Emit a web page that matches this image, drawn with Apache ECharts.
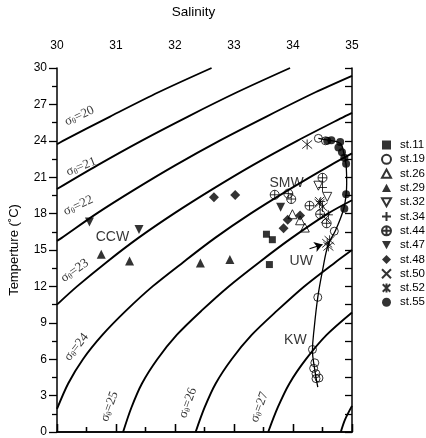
<!DOCTYPE html>
<html>
<head>
<meta charset="utf-8">
<title>T-S diagram</title>
<script src="https://cdn.jsdelivr.net/npm/echarts@6/dist/echarts.min.js"></script>
<style>
html, body { margin: 0; padding: 0; background: #fff; }
#main { width: 426px; height: 438px; }
</style>
</head>
<body>
<div id="main"></div>
<script>
// isopycnals (sigma-theta), [salinity, temperature]
var sig20 = [[30, 23.71], [30.1, 24], [30.9, 26], [31.72, 28], [32.62, 30]];
var sig21 = [[30, 20.03], [30.69, 22], [31.43, 24], [32.22, 26], [33.05, 28], [33.95, 30]];
var sig22 = [[30, 15.75], [30.08, 16], [30.67, 18], [31.32, 20], [32.01, 22], [32.75, 24], [33.55, 26], [34.38, 28], [35, 29.36]];
var sig23 = [[30, 10.5], [30.34, 12], [30.84, 14], [31.38, 16], [31.98, 18], [32.63, 20], [33.32, 22], [34.07, 24], [34.87, 26], [35, 26.31]];
var sig24 = [[30, 1.9], [30.19, 4], [30.44, 6], [30.77, 8], [31.17, 10], [31.62, 12], [32.14, 14], [32.68, 16], [33.28, 18], [33.94, 20], [34.64, 22], [35, 22.96]];
var sig25 = [[31.12, 0], [31.26, 2], [31.44, 4], [31.7, 6], [32.03, 8], [32.45, 10], [32.91, 12], [33.43, 14], [33.98, 16], [34.59, 18], [35, 19.1]];
var sig26 = [[32.35, 0], [32.5, 2], [32.69, 4], [32.96, 6], [33.3, 8], [33.73, 10], [34.19, 12], [34.72, 14], [35, 15.0]];
var sig27 = [[33.58, 0], [33.74, 2], [33.94, 4], [34.22, 6], [34.57, 8], [35, 9.85]];
var sig28 = [[34.81, 0], [34.88, 1], [35, 2.15]];
var isoLines = [sig20, sig21, sig22, sig23, sig24, sig25, sig26, sig27, sig28];

var sigmaNames = ['20', '21', '22', '23', '24', '25', '26', '27'];
var sigmaLabelAt = [[30.38, 26.05], [30.41, 21.86], [30.36, 18.66], [30.3, 13.3], [30.33, 7.0], [30.89, 2.1], [32.22, 2.4], [33.43, 2.05]];
var sigmaLabelRot = [25, 22, 25, 35, 52, 70, 70, 70];

// stations
var st11 = [[33.55, 16.3], [33.65, 15.85], [33.6, 13.8]];
var st19 = [[34.43, 24.2], [34.55, 24.0], [34.7, 16.55], [34.42, 11.1], [34.33, 6.8], [34.37, 5.7], [34.35, 5.25], [34.39, 4.8], [34.44, 4.45], [34.39, 4.4]];
var st26 = [[33.99, 17.95], [34.12, 17.45], [34.2, 16.85]];
var st29 = [[30.75, 14.65], [31.23, 14.1], [32.43, 13.92], [32.93, 14.22]];
var st32 = [[34.43, 20.3], [34.58, 19.38]];
var st34 = [[34.5, 20.15], [34.47, 19.0], [34.6, 17.9]];
var st44 = [[33.69, 19.55], [33.92, 19.65], [33.97, 19.2], [34.28, 18.65], [34.46, 17.95], [34.57, 17.2], [34.5, 20.95]];
var st47 = [[30.55, 17.3], [31.39, 16.68], [33.79, 18.52]];
var st48 = [[32.66, 19.34], [33.02, 19.54], [33.84, 16.8], [33.91, 17.5], [34.12, 17.84]];
var st50 = [[34.45, 19.0], [34.55, 17.6]];
var st52 = [[34.24, 23.7], [34.45, 18.85], [34.5, 18.55], [34.62, 15.8], [34.6, 15.3], [34.58, 15.55]];
var st55 = [[34.58, 24.0], [34.65, 24.05], [34.8, 23.9], [34.77, 23.45], [34.83, 23.05], [34.87, 22.6], [34.9, 22.1], [34.9, 19.6], [34.87, 18.4]];

// profile curve through the stations
var profile = [[34.43, 24.2], [34.6, 24.05], [34.8, 23.8], [34.86, 23.0], [34.9, 22.0], [34.91, 20.5], [34.9, 19.6], [34.86, 18.4], [34.72, 16.6], [34.6, 15.5], [34.5, 13.3], [34.42, 11.1], [34.36, 8.6], [34.33, 6.7], [34.36, 5.4], [34.42, 3.7]];
var arrowFrom = [34.28, 15.1];
var arrowTo = [34.5, 15.45];

var waterNames = ['CCW', 'SMW', 'UW', 'KW'];
var waterAt = [[30.94, 16.03], [33.89, 20.55], [34.14, 14.05], [34.04, 7.56]];

var stations = [
    { name: 'st.11', data: st11, symbol: 'rect', size: 7, fill: '#000' },
    { name: 'st.19', data: st19, symbol: 'path://M0,5 A5,5 0 1,1 10,5 A5,5 0 1,1 0,5 Z', size: 8, fill: 'transparent' },
    { name: 'st.26', data: st26, symbol: 'path://M5,0 L10,9 L0,9 Z', size: 9, fill: 'transparent' },
    { name: 'st.29', data: st29, symbol: 'path://M5,0 L10,9 L0,9 Z', size: 9, fill: '#000' },
    { name: 'st.32', data: st32, symbol: 'path://M0,0 L10,0 L5,9 Z', size: 9, fill: 'transparent' },
    { name: 'st.34', data: st34, symbol: 'path://M5,0 L5,10 M0,5 L10,5', size: 9, fill: 'transparent' },
    { name: 'st.44', data: st44, symbol: 'path://M0,5 A5,5 0 1,1 10,5 A5,5 0 1,1 0,5 Z M5,0 L5,10 M0,5 L10,5', size: 9, fill: 'transparent' },
    { name: 'st.47', data: st47, symbol: 'path://M0,0 L10,0 L5,9 Z', size: 9, fill: '#000' },
    { name: 'st.48', data: st48, symbol: 'diamond', size: 10, fill: '#000' },
    { name: 'st.50', data: st50, symbol: 'path://M0,0 L10,10 M10,0 L0,10', size: 9, fill: 'transparent' },
    { name: 'st.52', data: st52, symbol: 'path://M0,0 L10,10 M10,0 L0,10 M5,-1 L5,11', size: 10, fill: 'transparent' },
    { name: 'st.55', data: st55, symbol: 'circle', size: 8, fill: '#000' }
];

var series = [];
isoLines.forEach(function (pts) {
    series.push({
        type: 'line', data: pts, showSymbol: false, smooth: 0.3, silent: true, z: 1,
        lineStyle: { color: '#000', width: 1.9 }
    });
});
series.push({
    type: 'line', data: profile, showSymbol: false, smooth: 0.4, silent: true, z: 2,
    lineStyle: { color: '#000', width: 1.3 },
    markLine: {
        silent: true, symbol: ['none', 'arrow'], symbolSize: 8,
        label: { show: false },
        lineStyle: { color: '#000', width: 1.2, type: 'solid' },
        data: [[{ coord: arrowFrom }, { coord: arrowTo }]]
    }
});
stations.forEach(function (s) {
    series.push({
        name: s.name, type: 'scatter', data: s.data, symbol: s.symbol, symbolSize: s.size, z: 3,
        itemStyle: { color: s.fill, borderColor: '#000', borderWidth: s.fill === '#000' ? 0 : 1 }
    });
});
series.push({
    type: 'scatter', symbolSize: 0, silent: true, z: 4,
    data: sigmaNames.map(function (n, i) {
        return { name: n, value: sigmaLabelAt[i], label: { rotate: sigmaLabelRot[i] } };
    }),
    label: {
        show: true, position: 'inside',
        formatter: function (p) { return '{a|σ}{b|θ}{a|=' + p.name + '}'; },
        rich: {
            a: { fontFamily: 'Liberation Serif', fontSize: 13, color: '#000', lineHeight: 13 },
            b: { fontFamily: 'Liberation Serif', fontSize: 8, color: '#000', lineHeight: 8, verticalAlign: 'bottom', padding: [9, 0, 0, 0] }
        }
    }
});
series.push({
    type: 'scatter', symbolSize: 0, silent: true, z: 4,
    data: waterNames.map(function (n, i) { return { name: n, value: waterAt[i] }; }),
    label: {
        show: true, position: 'inside', formatter: '{b}',
        fontFamily: 'Liberation Sans', fontSize: 14, color: '#000'
    }
});

var axisLineStyle = { show: true, lineStyle: { color: '#000', width: 1.5 } };
var option = {
    animation: false,
    backgroundColor: '#fff',
    grid: { left: 50, right: 74, top: 67, bottom: 6 },
    legend: {
        orient: 'vertical', left: 376, top: 134,
        itemWidth: 9, itemHeight: 9, itemGap: 2.3,
        data: stations.map(function (s) { return s.name; }),
        textStyle: { fontFamily: 'Liberation Sans', fontSize: 11.5, lineHeight: 12, color: '#000', padding: [0, 0, 0, 4] }
    },
    xAxis: [{
        type: 'value', position: 'top', min: 30, max: 35, interval: 1,
        name: 'Salinity', nameLocation: 'middle', nameGap: 49,
        nameTextStyle: { fontFamily: 'Liberation Sans', fontSize: 13.5, color: '#000', padding: [0, 22, 0, 0] },
        axisLine: axisLineStyle,
        axisTick: { show: true, inside: false, length: 8, lineStyle: { color: '#000', width: 1.3 } },
        minorTick: { show: true, splitNumber: 2, length: 5, lineStyle: { color: '#000', width: 1.3 } },
        splitLine: { show: false },
        axisLabel: { margin: 16, fontFamily: 'Liberation Sans', fontSize: 12, color: '#000' }
    }, {
        type: 'value', position: 'bottom', min: 30, max: 35, interval: 1,
        axisLine: axisLineStyle,
        axisTick: { show: true, inside: true, length: 8, lineStyle: { color: '#000', width: 1.3 } },
        minorTick: { show: true, splitNumber: 2, length: 5, lineStyle: { color: '#000', width: 1.3 } },
        splitLine: { show: false },
        axisLabel: { show: false }
    }],
    yAxis: [{
        type: 'value', position: 'left', min: 0, max: 30, interval: 3,
        name: 'Temperture (˚C)', nameLocation: 'middle', nameGap: 36,
        nameTextStyle: { fontFamily: 'Liberation Sans', fontSize: 13, color: '#000' },
        axisLine: axisLineStyle,
        axisTick: { show: true, inside: false, length: 8, lineStyle: { color: '#000', width: 1.3 } },
        minorTick: { show: true, splitNumber: 2, length: 5, lineStyle: { color: '#000', width: 1.3 } },
        splitLine: { show: false },
        axisLabel: { margin: 10, fontFamily: 'Liberation Sans', fontSize: 12, color: '#000' }
    }, {
        type: 'value', position: 'right', min: 0, max: 30, interval: 3,
        axisLine: axisLineStyle,
        axisTick: { show: true, inside: true, length: 7, lineStyle: { color: '#000', width: 1.3 } },
        minorTick: { show: true, splitNumber: 2, length: 7, lineStyle: { color: '#000', width: 1.3 } },
        splitLine: { show: false },
        axisLabel: { show: false }
    }],
    series: series
};

var myChart = echarts.init(document.getElementById('main'));
myChart.setOption(option);
</script>
</body>
</html>
